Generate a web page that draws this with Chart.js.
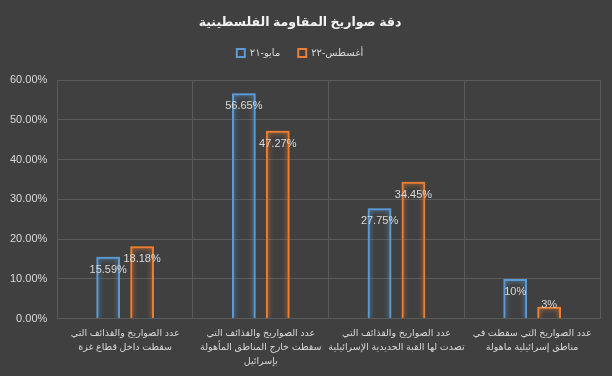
<!DOCTYPE html>
<html><head><meta charset="utf-8">
<script src="https://cdn.jsdelivr.net/npm/chart.js@4"></script>
<style>html,body{margin:0;padding:0;background:#404040;}#wrap{width:612px;height:376px;}</style>
</head><body><div id="wrap"><canvas id="c" width="612" height="376"></canvas></div>
<script>
const categories = [
  ["عدد الصواريخ والقذائف التي", "سقطت داخل قطاع غزة"],
  ["عدد الصواريخ والقذائف التي", "سقطت خارج المناطق المأهولة", "بإسرائيل"],
  ["عدد الصواريخ والقذائف التي", "تصدت لها القبة الحديدية الإسرائيلية"],
  ["عدد الصواريخ التي سقطت في", "مناطق إسرائيلية ماهولة"]
];
const seriesNames = ["مايو-٢١", "أغسطس-٢٢"];
const may21 = [15.59, 56.65, 27.75, 10];
const aug22 = [18.18, 47.27, 34.45, 3];
const valueLabels = [["15.59%", "56.65%", "27.75%", "10%"], ["18.18%", "47.27%", "34.45%", "3%"]];
const yTicks = [0, 10, 20, 30, 40, 50, 60];

const FONT = "'Liberation Sans', 'DejaVu Sans', sans-serif";
const TXT = '#d9d9d9';
const GRID = '#5a5a5a';
const colors = ['#5b9bd5', '#ed7d31'];

const glow = {
  id: 'glow',
  beforeDatasetDraw(chart, args) {
    const ctx = chart.ctx;
    ctx.save();
    ctx.shadowColor = colors[args.index];
    ctx.shadowBlur = 5;
  },
  afterDatasetDraw(chart) { chart.ctx.restore(); }
};
const labels = {
  id: 'vlabels',
  afterDatasetsDraw(chart) {
    const ctx = chart.ctx;
    ctx.save();
    ctx.font = '11px ' + FONT;
    ctx.fillStyle = TXT;
    ctx.textAlign = 'center';
    ctx.textBaseline = 'middle';
    chart.data.datasets.forEach((ds, i) => {
      chart.getDatasetMeta(i).data.forEach((bar, j) => {
        const y = Math.min(bar.y + 13, bar.base - 13);
        ctx.fillText(valueLabels[i][j], bar.x, y);
      });
    });
    ctx.restore();
  }
};
const bg = {
  id: 'bg',
  beforeDraw(chart) {
    const ctx = chart.ctx;
    ctx.save(); ctx.fillStyle = '#404040'; ctx.fillRect(0, 0, chart.width, chart.height); ctx.restore();
  }
};
const legendSpace = {
  id: 'legendSpace',
  beforeInit(chart) {
    const orig = chart.legend.fit;
    chart.legend.fit = function () { orig.call(this); this.height += 12; };
  }
};

new Chart(document.getElementById('c'), {
  type: 'bar',
  data: {
    labels: categories,
    datasets: [
      { label: seriesNames[0], data: may21, backgroundColor: 'rgba(0,0,0,0)', borderColor: colors[0], borderWidth: 2 },
      { label: seriesNames[1], data: aug22, backgroundColor: 'rgba(0,0,0,0)', borderColor: colors[1], borderWidth: 2 }
    ]
  },
  options: {
    responsive: false,
    animation: false,
    devicePixelRatio: 1,
    categoryPercentage: 0.5,
    barPercentage: 0.7,
    layout: { padding: { left: 0, right: 12, top: 0, bottom: 0 } },
    plugins: {
      title: { display: true, text: 'دقة صواريخ المقاومة الفلسطينية', color: '#f2f2f2',
        font: { family: FONT, size: 12.5, weight: 'bold' }, padding: { top: 15, bottom: 0 } },
      legend: { position: 'top', labels: { color: TXT, font: { family: FONT, size: 10 }, boxWidth: 8, boxHeight: 8, padding: 18 } },
      tooltip: { enabled: false }
    },
    scales: {
      x: {
        grid: { color: GRID, drawTicks: false, offset: true },
        border: { color: GRID },
        ticks: { color: TXT, font: { family: FONT, size: 9.5, lineHeight: 1.45 }, padding: 8, maxRotation: 0, autoSkip: false }
      },
      y: {
        min: 0, max: 60,
        afterBuildTicks(axis) { axis.ticks = yTicks.map(v => ({ value: v })); },
        grid: { color: GRID, drawTicks: false },
        border: { color: GRID },
        ticks: { color: TXT, font: { family: FONT, size: 11 }, padding: 10, callback: v => v.toFixed(2) + '%' }
      }
    }
  },
  plugins: [bg, glow, labels, legendSpace]
});
</script></body></html>
